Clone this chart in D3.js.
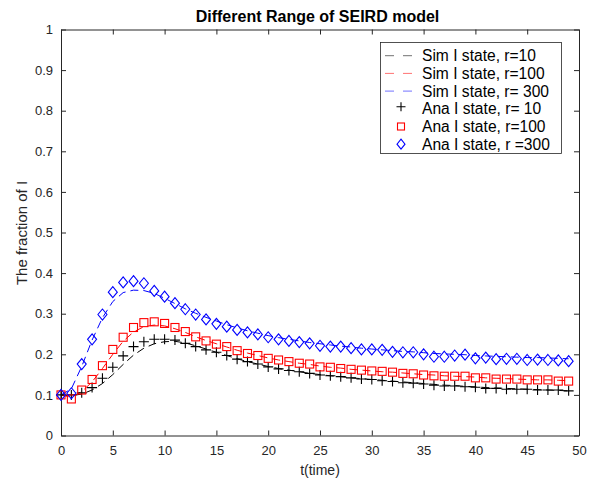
<!DOCTYPE html>
<html>
<head>
<meta charset="utf-8">
<script src="https://cdn.jsdelivr.net/npm/d3@7"></script>
<style>
  html, body { margin: 0; padding: 0; background: #fff; }
  svg { display: block; font-family: "Liberation Sans", Arial, Helvetica, sans-serif; }
</style>
</head>
<body>
<svg id="chart" width="597" height="483"></svg>
<script>
// Time steps 0..49
const times = d3.range(0, 50);

// Analytical I-state fractions
const anaR10 = [0.100, 0.100, 0.105, 0.118, 0.141, 0.168, 0.196, 0.219, 0.231, 0.237,
                0.237, 0.235, 0.227, 0.219, 0.211, 0.205, 0.197, 0.188, 0.182, 0.176,
                0.169, 0.164, 0.160, 0.157, 0.153, 0.149, 0.147, 0.145, 0.142, 0.139,
                0.138, 0.135, 0.133, 0.130, 0.129, 0.127, 0.124, 0.122, 0.122, 0.120,
                0.119, 0.116, 0.116, 0.114, 0.114, 0.114, 0.112, 0.112, 0.112, 0.110];
const anaR100 = [0.100, 0.090, 0.112, 0.138, 0.172, 0.212, 0.242, 0.266, 0.278, 0.280,
                 0.276, 0.266, 0.256, 0.243, 0.233, 0.225, 0.219, 0.209, 0.202, 0.197,
                 0.190, 0.186, 0.182, 0.178, 0.176, 0.169, 0.168, 0.165, 0.163, 0.161,
                 0.159, 0.158, 0.156, 0.153, 0.152, 0.149, 0.147, 0.146, 0.146, 0.146,
                 0.142, 0.142, 0.139, 0.139, 0.139, 0.137, 0.137, 0.137, 0.134, 0.134];
const anaR300 = [0.100, 0.104, 0.176, 0.237, 0.298, 0.353, 0.377, 0.380, 0.375, 0.356,
                 0.342, 0.326, 0.311, 0.298, 0.286, 0.275, 0.268, 0.260, 0.254, 0.249,
                 0.242, 0.237, 0.233, 0.230, 0.227, 0.221, 0.219, 0.219, 0.215, 0.212,
                 0.212, 0.211, 0.206, 0.205, 0.205, 0.200, 0.194, 0.194, 0.197, 0.199,
                 0.190, 0.192, 0.188, 0.189, 0.189, 0.186, 0.187, 0.186, 0.185, 0.183];

// Simulated I-state fractions
const simR10 = [0.100, 0.098, 0.102, 0.112, 0.128, 0.150, 0.175, 0.198, 0.215, 0.226,
                0.231, 0.232, 0.228, 0.221, 0.213, 0.205, 0.197, 0.189, 0.182, 0.176,
                0.170, 0.165, 0.161, 0.157, 0.153, 0.150, 0.147, 0.145, 0.142, 0.140,
                0.138, 0.136, 0.134, 0.132, 0.130, 0.128, 0.126, 0.124, 0.123, 0.121,
                0.120, 0.118, 0.117, 0.116, 0.115, 0.114, 0.113, 0.112, 0.111, 0.110];
const simR100 = [0.100, 0.094, 0.108, 0.132, 0.165, 0.200, 0.232, 0.255, 0.268, 0.272,
                 0.270, 0.263, 0.254, 0.243, 0.234, 0.226, 0.218, 0.210, 0.203, 0.197,
                 0.191, 0.186, 0.182, 0.178, 0.175, 0.171, 0.168, 0.166, 0.163, 0.161,
                 0.159, 0.157, 0.156, 0.154, 0.152, 0.150, 0.149, 0.147, 0.146, 0.145,
                 0.144, 0.142, 0.141, 0.140, 0.139, 0.138, 0.137, 0.137, 0.136, 0.135];
const simR300 = [0.100, 0.115, 0.170, 0.235, 0.290, 0.330, 0.352, 0.358, 0.357, 0.350,
                 0.338, 0.325, 0.312, 0.301, 0.291, 0.282, 0.273, 0.265, 0.258, 0.252,
                 0.246, 0.241, 0.237, 0.233, 0.229, 0.226, 0.223, 0.220, 0.218, 0.215,
                 0.213, 0.211, 0.209, 0.207, 0.206, 0.204, 0.202, 0.201, 0.200, 0.199,
                 0.197, 0.196, 0.195, 0.194, 0.193, 0.192, 0.192, 0.191, 0.190, 0.189];

const xTicks = [0, 5, 10, 15, 20, 25, 30, 35, 40, 45, 50];
const yTicks = [0, 0.1, 0.2, 0.3, 0.4, 0.5, 0.6, 0.7, 0.8, 0.9, 1];
const yTickLabels = ["0", "0.1", "0.2", "0.3", "0.4", "0.5", "0.6", "0.7", "0.8", "0.9", "1"];

const titleText = "Different Range of SEIRD model";
const xLabel = "t(time)";
const yLabel = "The fraction of I";

const seriesNames = ["Sim I state, r=10", "Sim I state, r=100", "Sim I state, r= 300",
                     "Ana I state, r= 10", "Ana I state, r=100", "Ana I state, r =300"];

const svg = d3.select("#chart");
const plot = { left: 61, right: 579, top: 29.5, bottom: 435.5 };

const x = d3.scaleLinear().domain([0, 50]).range([plot.left, plot.right]);
const y = d3.scaleLinear().domain([0, 1]).range([plot.bottom, plot.top]);

const axisColor = "#262626";

// Axes (box with inward ticks on all four sides)
const gx = svg.append("g").attr("transform", `translate(0,${plot.bottom})`)
  .call(d3.axisBottom(x).tickValues(xTicks).tickSizeInner(-5).tickSizeOuter(0).tickPadding(10).tickFormat(d3.format("d")));
const gxTop = svg.append("g").attr("transform", `translate(0,${plot.top})`)
  .call(d3.axisTop(x).tickValues(xTicks).tickSizeInner(-5).tickSizeOuter(0).tickFormat(""));
const gy = svg.append("g").attr("transform", `translate(${plot.left},0)`)
  .call(d3.axisLeft(y).tickValues(yTicks).tickSizeInner(-5).tickSizeOuter(0).tickPadding(8)
        .tickFormat((d, i) => yTickLabels[i]));
const gyRight = svg.append("g").attr("transform", `translate(${plot.right},0)`)
  .call(d3.axisRight(y).tickValues(yTicks).tickSizeInner(-5).tickSizeOuter(0).tickFormat(""));

[gx, gxTop, gy, gyRight].forEach(g => {
  g.selectAll("path").attr("stroke", axisColor).attr("stroke-width", 1);
  g.selectAll("line").attr("stroke", axisColor).attr("stroke-width", 1);
  g.selectAll("text").attr("fill", axisColor).style("font-size", "13px")
    .style("font-family", "'Liberation Sans', Arial, sans-serif");
});

// Simulated curves (dashed)
const line = d3.line().x((d, i) => x(times[i])).y(d => y(d));
const simSets = [
  { data: simR10, color: "#000000" },
  { data: simR100, color: "#ff0000" },
  { data: simR300, color: "#0000ff" }
];
simSets.forEach(s => {
  svg.append("path").datum(s.data)
    .attr("d", line)
    .attr("fill", "none")
    .attr("stroke", s.color)
    .attr("stroke-width", 1)
    .attr("stroke-dasharray", "8,5");
});

// Marker shapes
function drawPlus(g, cx, cy, color, r) {
  g.append("path").attr("d", `M${cx - r},${cy}H${cx + r}M${cx},${cy - r}V${cy + r}`)
    .attr("stroke", color).attr("stroke-width", 1.1).attr("fill", "none");
}
function drawSquare(g, cx, cy, color, r) {
  g.append("rect").attr("x", cx - r).attr("y", cy - r).attr("width", 2 * r).attr("height", 2 * r)
    .attr("stroke", color).attr("stroke-width", 1.1).attr("fill", "none");
}
function drawDiamond(g, cx, cy, color, rw, rh) {
  g.append("path").attr("d", `M${cx},${cy - rh}L${cx + rw},${cy}L${cx},${cy + rh}L${cx - rw},${cy}Z`)
    .attr("stroke", color).attr("stroke-width", 1.1).attr("fill", "none");
}

const markers = svg.append("g");
anaR10.forEach((v, i) => drawPlus(markers, x(times[i]), y(v), "#000000", 5));
anaR100.forEach((v, i) => drawSquare(markers, x(times[i]), y(v), "#ff0000", 4));
anaR300.forEach((v, i) => drawDiamond(markers, x(times[i]), y(v), "#0000ff", 4.5, 5.5));

// Title and axis labels
svg.append("text").attr("x", 317.5).attr("y", 21.5).attr("text-anchor", "middle")
  .style("font-size", "16px").style("font-weight", "bold").attr("fill", "#000")
  .text(titleText);
svg.append("text").attr("x", 320).attr("y", 475).attr("text-anchor", "middle")
  .style("font-size", "14px").attr("fill", axisColor).text(xLabel);
svg.append("text").attr("transform", "translate(27,233) rotate(-90)").attr("text-anchor", "middle")
  .style("font-size", "15px").attr("fill", axisColor).text(yLabel);

// Legend
const legend = svg.append("g");
legend.append("rect").attr("x", 380.5).attr("y", 42.5).attr("width", 181).attr("height", 111)
  .attr("fill", "#fff").attr("stroke", axisColor).attr("stroke-width", 0.8);
const rowY = [55.7, 73.4, 91.1, 108.8, 126.5, 144.2];
const legColors = ["#000000", "#ff0000", "#0000ff", "#000000", "#ff0000", "#0000ff"];
seriesNames.forEach((name, i) => {
  const cy = rowY[i];
  if (i < 3) {
    legend.append("line").attr("x1", 385).attr("x2", 413).attr("y1", cy).attr("y2", cy)
      .attr("stroke", legColors[i]).attr("stroke-width", 1).attr("stroke-dasharray", "9,9")
      .attr("opacity", 0.55);
  } else if (i === 3) {
    drawPlus(legend, 401, cy - 2, legColors[i], 4.5);
  } else if (i === 4) {
    drawSquare(legend, 401, cy, legColors[i], 3.5);
  } else {
    drawDiamond(legend, 401, cy, legColors[i], 4, 5);
  }
  legend.append("text").attr("x", 422).attr("y", cy + 5.5)
    .style("font-size", "15.6px").attr("fill", "#000").text(name);
});
</script>
</body>
</html>
